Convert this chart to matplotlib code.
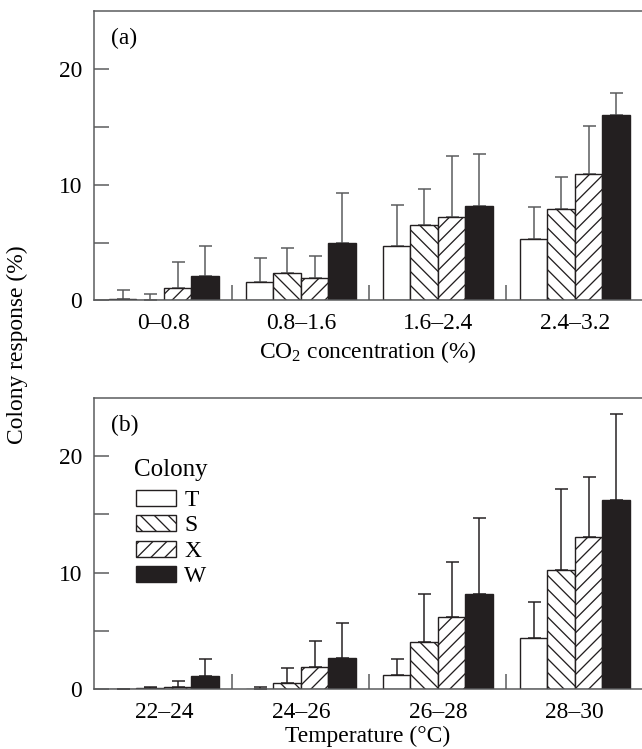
import numpy as np
import matplotlib
matplotlib.use("Agg")
import matplotlib.pyplot as plt

DPI = 125


def px(p):
    # pixel length -> points at this dpi
    return p * 72.0 / DPI


plt.rcParams['font.family'] = ['Liberation Serif', 'DejaVu Serif']
plt.rcParams['mathtext.fontset'] = 'custom'
plt.rcParams['mathtext.rm'] = 'Liberation Serif'
plt.rcParams['hatch.linewidth'] = px(1.3)

colonies = ['T', 'S', 'X', 'W']

co2_labels = ['0\u20130.8', '0.8\u20131.6', '1.6\u20132.4', '2.4\u20133.2']
co2_mean = {
    'T': [0.1, 1.6, 4.7, 5.3],
    'S': [0.05, 2.4, 6.5, 7.9],
    'X': [1.1, 1.95, 7.2, 10.9],
    'W': [2.15, 5.0, 8.2, 16.05],
}
co2_err = {
    'T': [0.8, 2.1, 3.55, 2.8],
    'S': [0.5, 2.15, 3.1, 2.8],
    'X': [2.25, 1.9, 5.25, 4.2],
    'W': [2.55, 4.25, 4.45, 1.85],
}

temp_labels = ['22\u201324', '24\u201326', '26\u201328', '28\u201330']
temp_mean = {
    'T': [0.0, 0.02, 1.2, 4.37],
    'S': [0.05, 0.49, 4.08, 10.23],
    'X': [0.15, 1.92, 6.21, 13.08],
    'W': [1.12, 2.67, 8.19, 16.23],
}
temp_err = {
    'T': [0.0, 0.13, 1.4, 3.1],
    'S': [0.1, 1.32, 4.08, 6.93],
    'X': [0.55, 2.24, 4.68, 5.17],
    'W': [1.49, 2.96, 6.53, 7.39],
}

dark = '#231f20'
grey = '#58595b'
styles = {
    'T': dict(color='white', hatch=None),
    'S': dict(color='white', hatch='\\\\\\'),
    'X': dict(color='white', hatch='///'),
    'W': dict(color=dark, hatch=None),
}

FS = px(23.5)

fig = plt.figure(figsize=(642 / DPI, 749 / DPI), dpi=DPI)
ax_a = fig.add_axes([94 / 642, 1 - 300.5 / 749, 548 / 642, 289.5 / 749])
ax_b = fig.add_axes([94 / 642, 1 - 689 / 749, 548 / 642, 291 / 749])


def draw_panel(ax, labels, means, errs, xlabel, tag, errcol, lpad):
    ngroups = len(labels)
    for i, c in enumerate(colonies):
        x = np.arange(ngroups) * 5 + i + 0.5
        m = np.array(means[c])
        e = np.array(errs[c])
        ax.bar(x, m, width=1.0, color=styles[c]['color'], hatch=styles[c]['hatch'],
               edgecolor=dark, linewidth=px(1.4), label=c, zorder=2)
        ax.errorbar(x, m, yerr=[np.zeros_like(e), e], fmt='none', ecolor=errcol,
                    elinewidth=px(1.5), capsize=px(6.5), capthick=px(1.5), zorder=1)
    ax.set_xlim(-0.55, 19.45)
    ax.set_ylim(0, 25)
    ax.set_yticks([0, 10, 20])
    ax.set_yticks([5, 15], minor=True)
    ax.set_xticks(np.arange(ngroups) * 5 + 2)
    ax.set_xticklabels(labels)
    ax.set_xticks([4.5, 9.5, 14.5], minor=True)
    ax.tick_params(axis='y', which='both', direction='in', length=px(15), width=px(1.5),
                   color=grey, labelsize=FS, pad=px(12))
    ax.tick_params(axis='x', which='major', direction='in', length=0, labelsize=FS, pad=px(13))
    ax.tick_params(axis='x', which='minor', direction='in', length=px(15), width=px(1.5), color=grey)
    for s in ['left', 'top', 'bottom']:
        ax.spines[s].set_color(grey)
        ax.spines[s].set_linewidth(px(1.5))
    ax.spines['right'].set_visible(False)
    ax.set_xlabel(xlabel, fontsize=FS, labelpad=lpad)
    ax.text(17 / 548, 1 - 27 / 290, tag, transform=ax.transAxes, fontsize=FS,
            ha='left', va='center')


draw_panel(ax_a, co2_labels, co2_mean, co2_err, r'CO$_{\mathrm{2}}$ concentration (%)', '(a)',
           grey, px(5))
draw_panel(ax_b, temp_labels, temp_mean, temp_err, 'Temperature (\u00b0C)', '(b)', dark, px(3))

# legend title placed by hand, entries by ax.legend
ax_b.text(40 / 548, 1 - 72 / 291, 'Colony', transform=ax_b.transAxes, fontsize=px(25),
          ha='left', va='center')
leg = ax_b.legend(loc='upper left', bbox_to_anchor=(42 / 548, 1 - 91.5 / 291),
                  frameon=False, fontsize=FS,
                  handlelength=40 / 23.5, handleheight=16 / 23.5, handletextpad=0.35,
                  labelspacing=0.18, borderpad=0, borderaxespad=0)

fig.text(17 / 642, 1 - 345 / 749, 'Colony response (%)', rotation=90, fontsize=FS,
         ha='center', va='center')

fig.savefig('out.png', dpi=DPI)
